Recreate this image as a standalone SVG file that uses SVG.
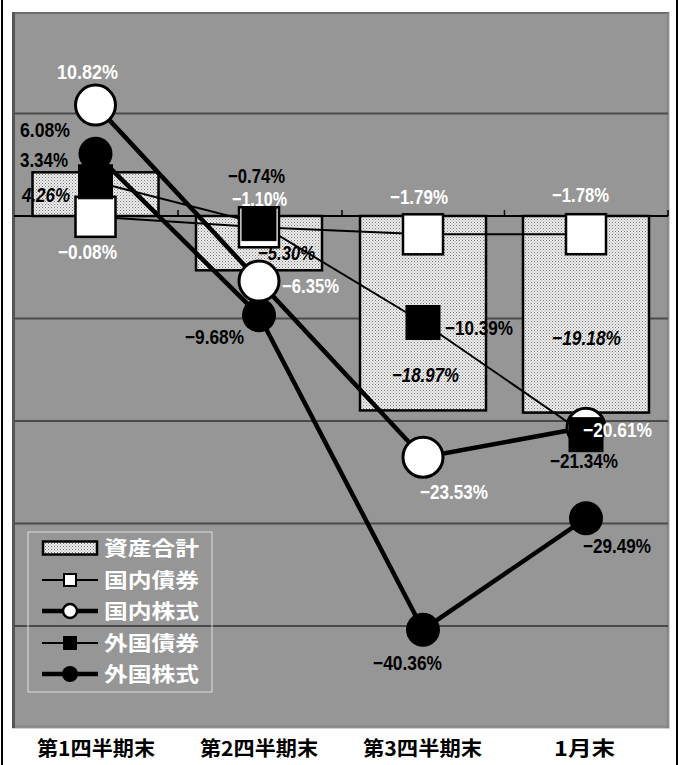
<svg xmlns="http://www.w3.org/2000/svg" width="678" height="765" viewBox="0 0 678 765">
<defs>
<pattern id="dots" width="3" height="3" patternUnits="userSpaceOnUse">
<rect width="3" height="3" fill="#ececec"/>
<rect x="0" y="0" width="1" height="1" fill="#7a7a7a"/>
<rect x="1.5" y="1.5" width="1" height="1" fill="#9a9a9a"/>
</pattern>
</defs>
<style>
.lbl{font-family:"Liberation Sans","Noto Sans CJK JP",sans-serif;font-weight:bold;font-size:20px}
.w{fill:#ffffff}
.b{fill:#000000}
.it{font-style:italic}
.cj{font-family:"Noto Sans CJK JP","Liberation Sans",sans-serif;font-weight:bold}
.grid{stroke:#4a4a4a;stroke-width:2}
.bar{fill:url(#dots);stroke:#000;stroke-width:2.5}
.thin{fill:none;stroke:#000;stroke-width:2}
.thick{fill:none;stroke:#000;stroke-width:4.5;stroke-linejoin:round}
.wsq{fill:#fff;stroke:#000;stroke-width:2.5}
.bsq{fill:#000;stroke:#000;stroke-width:1}
.wci{fill:#fff;stroke:#000;stroke-width:3}
.bci{fill:#000}
</style>
<rect x="0" y="0" width="678" height="765" fill="#ffffff"/>
<line x1="2" y1="0" x2="2" y2="765" stroke="#000" stroke-width="2"/>
<line x1="677" y1="0" x2="677" y2="765" stroke="#000" stroke-width="2"/>
<g id="plot-area">
<rect x="12" y="12" width="658" height="717" fill="#969696"/>
<line x1="12" y1="13" x2="670" y2="13" stroke="#6a6a6a" stroke-width="2"/>
<line x1="13.5" y1="12" x2="13.5" y2="729" stroke="#555" stroke-width="3"/>
<line x1="669.5" y1="12" x2="669.5" y2="729" stroke="#cfcfcf" stroke-width="1"/>
<line x1="12" y1="728.5" x2="670" y2="728.5" stroke="#cfcfcf" stroke-width="1"/>
<line x1="667.5" y1="13" x2="667.5" y2="728" stroke="#888" stroke-width="2"/>
<line x1="15" y1="726.5" x2="669" y2="726.5" stroke="#888" stroke-width="2"/>
</g>
<g id="gridlines">
<line class="grid" x1="14" y1="113.5" x2="668" y2="113.5"/>
<line class="grid" x1="14" y1="318.5" x2="668" y2="318.5"/>
<line class="grid" x1="14" y1="421" x2="668" y2="421"/>
<line class="grid" x1="14" y1="523.5" x2="668" y2="523.5"/>
<line class="grid" x1="14" y1="626" x2="668" y2="626"/>
</g>
<g id="bars">
<rect class="bar" x="32.5" y="172.3" width="126" height="43.7"/>
<rect class="bar" x="196" y="216" width="126" height="54.3"/>
<rect class="bar" x="360" y="216" width="126" height="194.4"/>
<rect class="bar" x="523" y="216" width="126" height="196.6"/>
</g>
<g id="axis">
<line x1="14" y1="216" x2="668" y2="216" stroke="#000" stroke-width="2"/>
<line x1="178" y1="210" x2="178" y2="216" stroke="#000" stroke-width="1.5"/>
<line x1="342" y1="210" x2="342" y2="216" stroke="#000" stroke-width="1.5"/>
<line x1="504.5" y1="210" x2="504.5" y2="216" stroke="#000" stroke-width="1.5"/>
<line x1="668" y1="210" x2="668" y2="216" stroke="#000" stroke-width="1.5"/>
</g>
<g id="connectors">
<polyline class="thin" points="95.5,216.8 259,227.3 423,234.3 586,234.2"/>
<polyline class="thick" points="95.5,105.1 259,281.1 423,457.2 586,427.3"/>
<polyline class="thin" points="95.5,181.8 259,223.6 423,322.5 586,434.7"/>
<polyline class="thick" points="95.5,153.7 259,315.2 423,629.7 586,518.3"/>
</g>
<g id="domestic-bonds">
<rect class="wsq" x="75.5" y="196.8" width="40" height="40"/>
<rect class="wsq" x="239" y="207.3" width="40" height="40"/>
<rect class="wsq" x="403" y="214.3" width="40" height="40"/>
<rect class="wsq" x="566" y="214.2" width="40" height="40"/>
</g>
<g id="foreign-stocks">
<circle class="bci" cx="95.5" cy="153.7" r="17"/>
<circle class="bci" cx="259" cy="315.2" r="17"/>
<circle class="bci" cx="423" cy="629.7" r="17"/>
<circle class="bci" cx="586" cy="518.3" r="17"/>
</g>
<g id="domestic-stocks">
<circle class="wci" cx="95.5" cy="105.1" r="20"/>
<circle class="wci" cx="259" cy="281.1" r="20"/>
<circle class="wci" cx="423" cy="457.2" r="20"/>
<circle class="wci" cx="586" cy="427.3" r="19"/>
</g>
<g id="foreign-bonds">
<rect class="bsq" x="78.5" y="164.8" width="34" height="34"/>
<rect class="bsq" x="242" y="206.6" width="34" height="34"/>
<rect class="bsq" x="406" y="305.5" width="34" height="34"/>
<rect class="bsq" x="569" y="417.7" width="34" height="34"/>
</g>
<g id="labels">
<text class="lbl w" x="57" y="79" textLength="61" lengthAdjust="spacingAndGlyphs">10.82%</text>
<text class="lbl b" x="20" y="137" textLength="50" lengthAdjust="spacingAndGlyphs">6.08%</text>
<text class="lbl b" x="20" y="167" textLength="48" lengthAdjust="spacingAndGlyphs">3.34%</text>
<text class="lbl b it" x="22" y="202" textLength="48" lengthAdjust="spacingAndGlyphs">4.26%</text>
<text class="lbl w" x="58" y="259" textLength="59" lengthAdjust="spacingAndGlyphs">−0.08%</text>
<text class="lbl b" x="228" y="183" textLength="57" lengthAdjust="spacingAndGlyphs">−0.74%</text>
<text class="lbl w" x="232" y="206" textLength="55" lengthAdjust="spacingAndGlyphs">−1.10%</text>
<text class="lbl b it" x="258" y="260" textLength="57" lengthAdjust="spacingAndGlyphs">−5.30%</text>
<text class="lbl w" x="282" y="293" textLength="57" lengthAdjust="spacingAndGlyphs">−6.35%</text>
<text class="lbl b" x="185" y="344" textLength="59" lengthAdjust="spacingAndGlyphs">−9.68%</text>
<text class="lbl w" x="390" y="204" textLength="58" lengthAdjust="spacingAndGlyphs">−1.79%</text>
<text class="lbl w" x="552" y="202" textLength="57" lengthAdjust="spacingAndGlyphs">−1.78%</text>
<text class="lbl b" x="445" y="335" textLength="68" lengthAdjust="spacingAndGlyphs">−10.39%</text>
<text class="lbl b it" x="392" y="382" textLength="67" lengthAdjust="spacingAndGlyphs">−18.97%</text>
<text class="lbl b it" x="552" y="345" textLength="69" lengthAdjust="spacingAndGlyphs">−19.18%</text>
<text class="lbl w" x="583" y="437" textLength="69" lengthAdjust="spacingAndGlyphs">−20.61%</text>
<text class="lbl b" x="550" y="468" textLength="68" lengthAdjust="spacingAndGlyphs">−21.34%</text>
<text class="lbl w" x="420" y="499" textLength="68" lengthAdjust="spacingAndGlyphs">−23.53%</text>
<text class="lbl b" x="583" y="553" textLength="68" lengthAdjust="spacingAndGlyphs">−29.49%</text>
<text class="lbl b" x="373" y="670" textLength="69" lengthAdjust="spacingAndGlyphs">−40.36%</text>
</g>
<g id="legend">
<rect x="28" y="532" width="184" height="160" fill="none" stroke="#dddddd" stroke-width="1"/>
<rect x="43" y="541.5" width="54" height="13" fill="url(#dots)" stroke="#000" stroke-width="2.5"/>
<text class="lbl cj w" x="104" y="556" font-size="21" textLength="95" lengthAdjust="spacingAndGlyphs">資産合計</text>
<line x1="42" y1="580" x2="98" y2="580" stroke="#000" stroke-width="2"/>
<rect x="64" y="574" width="12" height="12" fill="#fff" stroke="#000" stroke-width="2"/>
<text class="lbl cj w" x="104" y="588" font-size="21" textLength="95" lengthAdjust="spacingAndGlyphs">国内債券</text>
<line x1="42" y1="611" x2="98" y2="611" stroke="#000" stroke-width="4.5"/>
<circle cx="70" cy="611" r="7" fill="#fff" stroke="#000" stroke-width="2.5"/>
<text class="lbl cj w" x="104" y="619" font-size="21" textLength="95" lengthAdjust="spacingAndGlyphs">国内株式</text>
<line x1="42" y1="643" x2="98" y2="643" stroke="#000" stroke-width="2"/>
<rect x="63" y="636" width="14" height="14" fill="#000"/>
<text class="lbl cj w" x="104" y="651" font-size="21" textLength="95" lengthAdjust="spacingAndGlyphs">外国債券</text>
<line x1="42" y1="674" x2="98" y2="674" stroke="#000" stroke-width="4.5"/>
<circle cx="70" cy="674" r="8" fill="#000"/>
<text class="lbl cj w" x="104" y="682" font-size="21" textLength="95" lengthAdjust="spacingAndGlyphs">外国株式</text>
</g>
<g id="categories">
<text class="lbl cj b" x="96" y="756" font-size="20" text-anchor="middle" textLength="118" lengthAdjust="spacingAndGlyphs">第1四半期末</text>
<text class="lbl cj b" x="259" y="756" font-size="20" text-anchor="middle" textLength="118" lengthAdjust="spacingAndGlyphs">第2四半期末</text>
<text class="lbl cj b" x="422.5" y="756" font-size="20" text-anchor="middle" textLength="119" lengthAdjust="spacingAndGlyphs">第3四半期末</text>
<text class="lbl cj b" x="584.5" y="756" font-size="20" text-anchor="middle" textLength="61" lengthAdjust="spacingAndGlyphs">1月末</text>
</g>
</svg>
